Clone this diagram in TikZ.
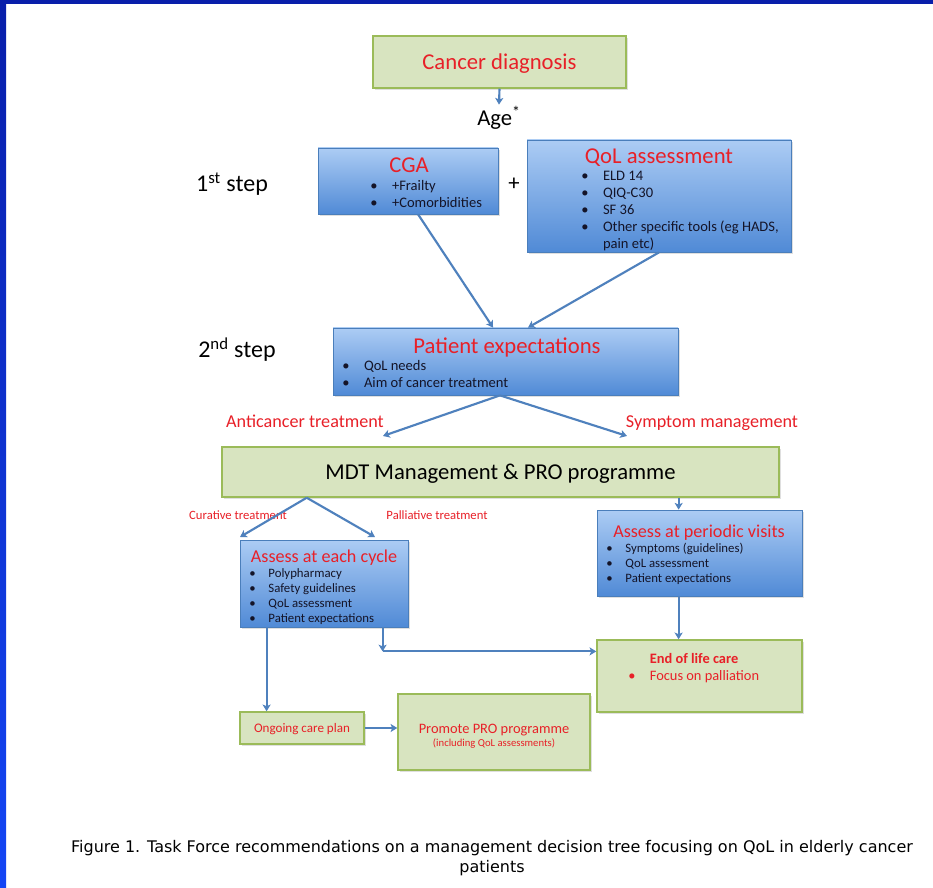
\documentclass[tikz,border=0pt]{standalone}
\usepackage{fontspec}
\setmainfont{Carlito}
\newfontfamily\capfont{DejaVu Sans}
\usetikzlibrary{arrows.meta,shadows,calc,fit}

\definecolor{txtred}{RGB}{232,32,40}
\definecolor{arrowblue}{RGB}{79,129,189}
\definecolor{boxgreen}{RGB}{216,228,192}
\definecolor{greenedge}{RGB}{155,187,89}
\definecolor{bluetop}{RGB}{172,204,244}
\definecolor{bluebot}{RGB}{80,138,214}
\definecolor{blueedge}{RGB}{74,126,187}
\definecolor{framedark}{RGB}{8,30,170}
\definecolor{framelight}{RGB}{20,70,245}
\definecolor{listtext}{RGB}{20,20,40}

\newcommand\fsz[2]{\fontsize{#1}{#2}\selectfont}
% bullet list set as a two-column table
\newcommand\blist[1]{\begin{tabular}{@{}l@{\hspace{1em}}l@{}}#1\end{tabular}}

\tikzset{
  greenbox/.style={draw=greenedge, line width=1.1pt, fill=boxgreen, inner sep=0pt,
    drop shadow={opacity=0.25, shadow xshift=1.2pt, shadow yshift=-1.5pt}},
  bluebox/.style={draw=blueedge, line width=0.6pt, top color=bluetop, bottom color=bluebot,
    inner sep=0pt, drop shadow={opacity=0.25, shadow xshift=1.2pt, shadow yshift=-1.5pt}},
  flow/.style={draw=arrowblue, line width=1.6pt, -{Stealth[width=6pt,length=5pt,inset=1.2pt]}},
  % single text line centred on its letters rather than on its full box
  oneline/.style={inner sep=0pt, text depth=0pt, text height=#1},
  title/.style={oneline=11.9pt, text=txtred, font=\fsz{17}{20}},
  midtitle/.style={oneline=9.5pt, text=txtred, font=\fsz{13.6}{16}},
  branch/.style={oneline=9.5pt, text=txtred, font=\fsz{13.6}{16}},
  smallbranch/.style={oneline=6.65pt, text=txtred, font=\fsz{9.5}{11}},
  steplabel/.style={oneline=12.6pt, font=\fsz{18}{21}},
  biglist/.style={inner sep=0pt, anchor=west, text=listtext, font=\fsz{10.9}{12.75}},
  smalllist/.style={inner sep=0pt, anchor=west, text=listtext, font=\fsz{9.6}{11.25}},
}

\begin{document}
\begin{tikzpicture}[x=0.75pt,y=-0.75pt]
\useasboundingbox (0,0) rectangle (933,888);
\fill[white] (0,0) rectangle (933,888);
% slide frame
\shade[top color=framedark, bottom color=framelight] (0,0) rectangle (6,888);
\fill[framedark] (0,0) rectangle (933,4);

% diagnosis and age
\node[greenbox, fit={(373,36)(626,88)}] (diag) {};
\node[title] (diagtxt) at (diag.center) {Cancer diagnosis};
\node[inner sep=1pt, font=\fsz{17}{20}] (age) at (499,118) {Age\textsuperscript{*}};
\draw[flow] (diag.south) -- (age.north);

% step labels
\node[steplabel] (step1) at (232,183) {1\textsuperscript{st} step};
\node[steplabel] (step2) at (237,349) {2\textsuperscript{nd} step};

% first step: CGA + QoL assessment
\node[bluebox, fit={(318,148)(498,214)}] (cga) {};
\node[title] (cgatitle) at (409,165) {CGA};
\node[biglist] (cgalist) at (370,195.5)
  {\blist{\textbullet & +Frailty\\ \textbullet & +Comorbidities}};

\node[oneline=11.9pt, font=\fsz{17}{20}] (plus) at (514,183) {+};

\node[bluebox, fit={(527,140)(791,252)}] (qol) {};
\node[title] (qoltitle) at (659,156) {QoL assessment};
\node[biglist] (qollist) at (581,211)
  {\blist{\textbullet & ELD 14\\ \textbullet & QIQ-C30\\ \textbullet & SF 36\\
   \textbullet & Other specific tools (eg HADS,\\ & pain etc)}};

% second step: patient expectations
\node[bluebox, fit={(333,328)(678,395)}] (pat) {};
\node[title] (pattitle) at (507,346) {Patient expectations};
\node[biglist] (patlist) at (342,376)
  {\blist{\textbullet & QoL needs\\ \textbullet & Aim of cancer treatment}};

\draw[flow] ($(cga.south west)!0.556!(cga.south east)$) -- ($(pat.north west)!0.464!(pat.north east)$);
\draw[flow] (qol.south) -- ($(pat.north west)!0.565!(pat.north east)$);

% treatment branches
\node[branch] (anti) at (305,421) {Anticancer treatment};
\node[branch] (symp) at (712,421) {Symptom management};
\coordinate (patsplit) at ($(pat.south west)!0.484!(pat.south east)$);
\coordinate (antiend) at (383,436);
\coordinate (sympend) at (627,436);
\draw[flow] (patsplit) -- (antiend);
\draw[flow] (patsplit) -- (sympend);

% MDT management
\node[greenbox, fit={(222,447)(779,497)}] (mdt) {};
\node[oneline=11.9pt, font=\fsz{17}{20}] (mdttxt) at (mdt.center) {MDT Management \& PRO programme};

\node[smallbranch] (cur) at (238,515) {Curative treatment};
\node[smallbranch] (pal) at (437,515) {Palliative treatment};
\coordinate (mdtsplit) at ($(mdt.south west)!0.153!(mdt.south east)$);
\coordinate (curend) at (240,537);
\coordinate (palend) at (375,537);
\draw[flow] (mdtsplit) -- (curend);
\draw[flow] (mdtsplit) -- (palend);

% assessment at each cycle
\node[bluebox, fit={(240,540)(408,627)}] (each) {};
\node[midtitle] (eachtitle) at (324,556) {Assess at each cycle};
\node[smalllist] (eachlist) at (249,597)
  {\blist{\textbullet & Polypharmacy\\ \textbullet & Safety guidelines\\
   \textbullet & QoL assessment\\ \textbullet & Patient expectations}};

% assessment at periodic visits
\node[bluebox, fit={(597,510)(802,596)}] (visit) {};
\node[midtitle] (visittitle) at (699,531) {Assess at periodic visits};
\node[smalllist] (visitlist) at (606,564.5)
  {\blist{\textbullet & Symptoms (guidelines)\\ \textbullet & QoL assessment\\
   \textbullet & Patient expectations}};
\coordinate (mdtvis) at ($(mdt.south west)!0.819!(mdt.south east)$);
\draw[flow] (mdtvis) -- (mdtvis |- visit.north);

% end of life care
\node[greenbox, fit={(597,640)(802,712)}] (eol) {};
\node[inner sep=0pt, anchor=west, text=txtred, font=\fsz{10.8}{12.75}] (eoltxt) at (628,669)
  {\blist{ & \textbf{End of life care}\\ \textbullet & Focus on palliation}};
\coordinate (visitL) at ($(visit.south west)+(82,0)$);
\draw[flow] (visitL) -- (visitL |- eol.north);

% ongoing care and PRO programme
\node[greenbox, fit={(240,712)(364,744)}] (ongoing) {};
\node[oneline=6.9pt, text=txtred, font=\fsz{9.8}{12}] (ongoingtxt) at (ongoing.center) {Ongoing care plan};
\node[greenbox, fit={(398,694)(590,770)}] (promote) {};
\node[oneline=7.6pt, text=txtred, font=\fsz{10.8}{13}] (promotetxt) at (494,728) {Promote PRO programme};
\node[oneline=5.6pt, text=txtred, font=\fsz{8}{10}] (promotesub) at (494,743) {(including QoL assessments)};

\coordinate (eachL) at ($(each.south west)+(27,0)$);
\draw[flow] (eachL) -- (eachL |- ongoing.north);
\coordinate (eachR) at ($(each.south west)+(143,0)$);
\coordinate (bend) at ($(eachR)+(0,24)$);
\draw[flow] (eachR) -- (bend);
\draw[flow] (bend) -- (bend -| eol.west);
\draw[flow] (ongoing.east) -- (ongoing.east -| promote.west);

% caption
\node[inner sep=0pt, align=center, font=\capfont\fsz{12}{14.5}] (caption) at (492,858)
  {Figure 1. Task Force recommendations on a management decision tree focusing on QoL in elderly cancer\\ patients};
\end{tikzpicture}
\end{document}
